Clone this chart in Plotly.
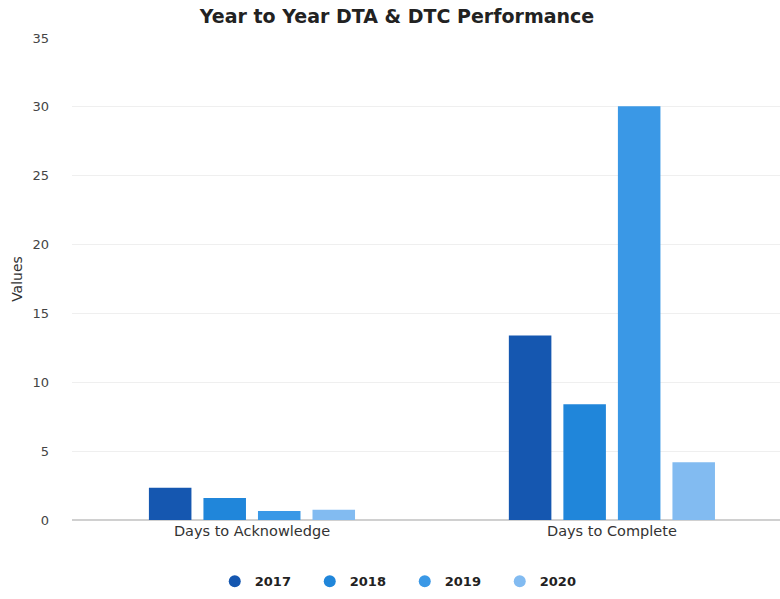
import plotly.graph_objects as go

categories = ["Days to Acknowledge", "Days to Complete"]
years = ["2017", "2018", "2019", "2020"]
values_2017 = [2.35, 13.4]
values_2018 = [1.6, 8.4]
values_2019 = [0.65, 30.05]
values_2020 = [0.75, 4.2]
series = [values_2017, values_2018, values_2019, values_2020]
colors = ["#1557b0", "#2086da", "#3a98e6", "#82bbf1"]
y_ticks = [0, 5, 10, 15, 20, 25, 30, 35]

fig = go.Figure()
for name, vals, col in zip(years, series, colors):
    fig.add_trace(go.Bar(x=categories, y=vals, name=name, marker=dict(color=col, line=dict(width=0)),
                         showlegend=False))
for name, col in zip(years, colors):
    fig.add_trace(go.Scatter(x=[None], y=[None], mode="markers", name=name,
                             marker=dict(symbol="circle", size=17, color=col)))

fig.update_layout(
    width=780, height=599,
    margin=dict(l=72, r=0, t=38, b=79),
    plot_bgcolor="white", paper_bgcolor="white",
    barmode="group", bargap=0.394, bargroupgap=0.22,
    title=dict(text="<b>Year to Year DTA & DTC Performance</b>", x=0.509, xanchor="center",
               y=0.972, yanchor="middle",
               font=dict(family="DejaVu Sans", size=19, color="#222222")),
    font=dict(family="DejaVu Sans", color="#333333"),
    xaxis=dict(range=[-0.5, 1.467], showgrid=False, showline=False, ticks="",
               tickfont=dict(size=14.5, color="#333333")),
    yaxis=dict(range=[0, 35], tickvals=y_ticks, showgrid=True, gridcolor="#efefef", gridwidth=1,
               zeroline=True, zerolinecolor="#d0d0d0", zerolinewidth=1.5,
               tickfont=dict(size=13, color="#444444"), ticklabelstandoff=22,
               title=dict(text="Values", font=dict(size=14, color="#333333"), standoff=6)),
    legend=dict(orientation="h", x=0.47, xanchor="center", y=-0.127, yanchor="middle",
                font=dict(size=13, color="#222222", family="DejaVu Sans", weight="bold"),
                itemsizing="constant", traceorder="normal", entrywidth=50),
)
fig.write_html("out.html", post_script="document.body.style.margin='0';",
               config={"displayModeBar": False})
